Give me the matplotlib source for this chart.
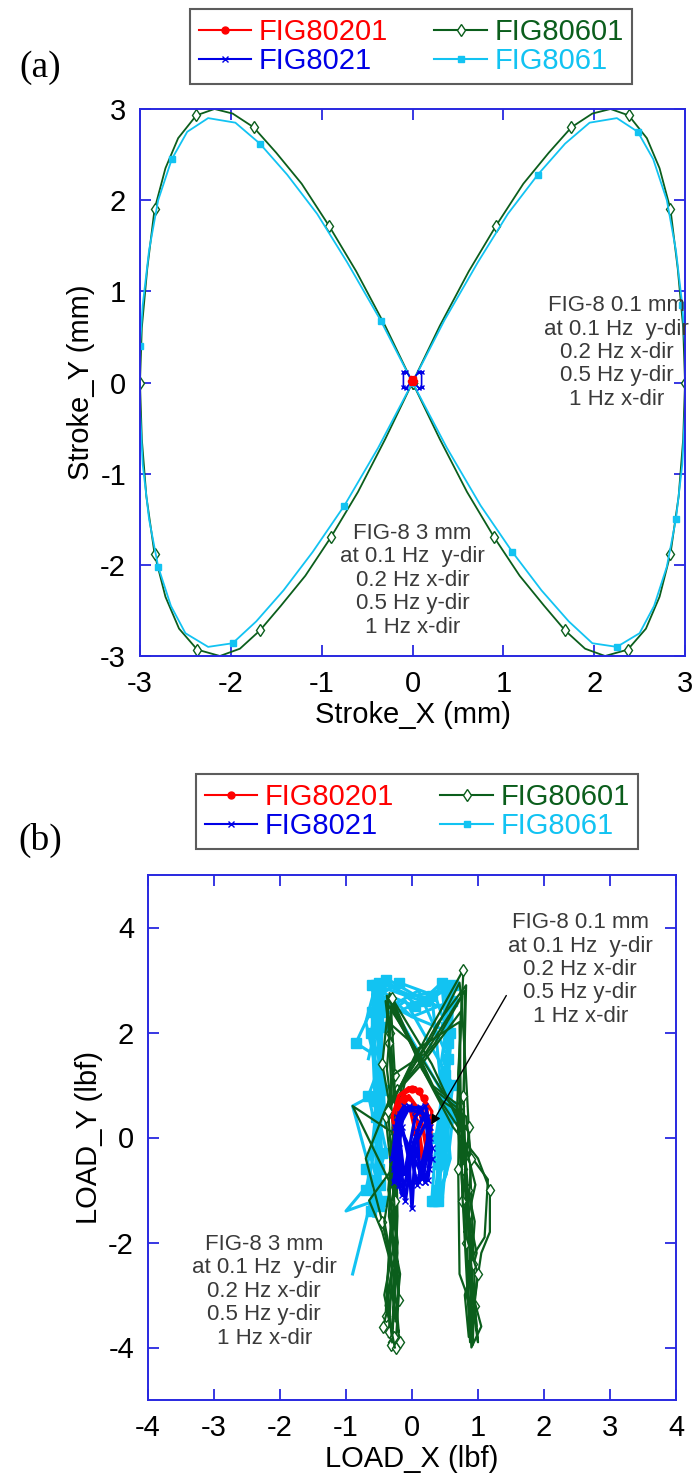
import numpy as np
import matplotlib
matplotlib.use("Agg")
import matplotlib.pyplot as plt
from matplotlib.lines import Line2D

plt.rcParams['font.family'] = ['Liberation Sans', 'DejaVu Sans']
plt.rcParams['axes.unicode_minus'] = False

RED = '#ff0000'
GREEN = '#0b5e1c'
BLUE = '#0000e6'
CYAN = '#12c3f2'
SPINE = '#2828e0'
NOTE = '#3a3a3a'

names = ['FIG80201', 'FIG8021', 'FIG80601', 'FIG8061']

# ---- panel (a): stroke paths (mm) ----
stroke_80601_x = [0.00, 0.30, 0.62, 0.92, 1.22, 1.50, 1.75, 1.98, 2.18, 2.38, 2.58, 2.72, 2.84, 2.92, 2.98, 3.00,
                  2.98, 2.93, 2.84, 2.72, 2.57, 2.37, 2.12, 1.90, 1.68, 1.45, 1.18, 0.90, 0.60, 0.30, 0.00,
                  -0.30, -0.62, -0.92, -1.22, -1.50, -1.75, -1.98, -2.18, -2.38, -2.58, -2.72, -2.84, -2.92, -2.98, -3.00,
                  -2.98, -2.93, -2.84, -2.72, -2.57, -2.37, -2.12, -1.90, -1.68, -1.45, -1.18, -0.90, -0.60, -0.30, 0.00]
stroke_80601_y = [0.00, 0.62, 1.22, 1.72, 2.18, 2.52, 2.80, 2.95, 3.00, 2.93, 2.68, 2.35, 1.90, 1.25, 0.60, 0.00,
                  -0.62, -1.25, -1.88, -2.35, -2.70, -2.93, -3.00, -2.92, -2.72, -2.45, -2.12, -1.70, -1.20, -0.62, 0.00,
                  0.62, 1.22, 1.72, 2.18, 2.52, 2.80, 2.95, 3.00, 2.93, 2.68, 2.35, 1.90, 1.25, 0.60, 0.00,
                  -0.62, -1.25, -1.88, -2.35, -2.70, -2.93, -3.00, -2.92, -2.72, -2.45, -2.12, -1.70, -1.20, -0.62, 0.00]

stroke_8061_x = [0.00, 0.35, 0.72, 1.05, 1.38, 1.68, 1.95, 2.25, 2.48, 2.65, 2.80, 2.90, 2.97, 3.00,
                 3.00, 2.97, 2.90, 2.80, 2.66, 2.50, 2.25, 1.98, 1.72, 1.42, 1.10, 0.75, 0.38, 0.00,
                 -0.35, -0.72, -1.05, -1.38, -1.68, -1.95, -2.25, -2.48, -2.65, -2.80, -2.90, -2.97, -3.00,
                 -3.00, -2.97, -2.90, -2.80, -2.66, -2.50, -2.25, -1.98, -1.72, -1.42, -1.10, -0.75, -0.38, 0.00]
stroke_8061_y = [0.00, 0.68, 1.32, 1.85, 2.28, 2.62, 2.85, 2.90, 2.75, 2.45, 2.00, 1.45, 0.85, 0.40,
                 -0.30, -0.90, -1.50, -2.02, -2.45, -2.75, -2.90, -2.86, -2.62, -2.28, -1.86, -1.35, -0.72, 0.00,
                 0.68, 1.32, 1.85, 2.28, 2.62, 2.85, 2.90, 2.75, 2.45, 2.00, 1.45, 0.85, 0.40,
                 -0.30, -0.90, -1.50, -2.02, -2.45, -2.75, -2.90, -2.86, -2.62, -2.28, -1.86, -1.35, -0.72, 0.00]

stroke_8021_x = [0.00, 0.07, 0.10, 0.10, 0.07, 0.00, -0.07, -0.10, -0.10, -0.07, 0.00]
stroke_8021_y = [0.02, 0.12, 0.11, -0.05, -0.06, 0.02, 0.12, 0.11, -0.05, -0.06, 0.02]
stroke_80201_x = [0.00, 0.02, 0.03, 0.02, 0.00, -0.02, -0.03, -0.02, 0.00]
stroke_80201_y = [0.02, 0.05, 0.02, -0.01, 0.02, 0.05, 0.02, -0.01, 0.02]

# ---- panel (b): load paths (lbf), one (x, y) pair per cycle ----
load_80601 = [
    ([-0.30, -0.26, -0.22, -0.24, -0.28, -0.33, -0.38, 0.05, 0.35, 0.75, 0.85, 0.88, 0.92, 0.95, 0.90, 0.86, 0.80,
      0.75, 0.72, 0.30, -0.22, -0.28, -0.25, -0.22, -0.28, -0.32],
     [-3.90, -2.80, -1.50, -0.20, 1.00, 2.00, 2.70, 1.70, 0.90, 0.50, -1.00, -2.50, -3.95, -2.80, -1.20, 0.20, 1.60,
      2.60, 2.95, 1.90, 0.90, 0.30, -1.00, -2.20, -3.20, -3.95]),
    ([-0.35, -0.30, -0.45, -0.65, -0.30, -0.25, -0.30, -0.40, 0.00, 0.30, 0.72, 0.80, 1.15, 1.10, 0.85, 0.95, 1.00,
      0.85, 0.80, 0.70, 0.78, 0.25, -0.25, -0.20, -0.30, -0.20, -0.35],
     [-3.70, -2.50, -1.80, -1.20, -0.60, 0.20, 1.50, 2.60, 1.80, 1.00, 0.60, -0.20, -0.80, -1.90, -2.40, -3.20, -3.90,
      -2.60, -0.80, 1.20, 3.20, 2.00, 0.80, -0.50, -1.90, -3.10, -3.80]),
    ([-0.25, -0.20, -0.28, -0.90, -0.30, -0.26, -0.32, 0.10, 0.38, 0.70, 0.78, 0.95, 0.88, 1.05, 0.90, 0.82, 0.68,
      0.76, 0.35, -0.15, -0.30, -0.35, -0.18, -0.25],
     [-4.00, -3.00, -1.00, 0.60, 0.10, 1.20, 2.50, 1.50, 0.80, 0.20, -0.60, -1.60, -2.80, -3.60, -4.00, -2.00, 0.50,
      2.70, 1.80, 1.00, 0.00, -1.50, -2.60, -3.50]),
    ([-0.40, -0.35, -0.30, -0.20, -0.25, -0.35, -0.30, 0.15, 0.45, 0.82, 0.90, 0.85, 0.98, 0.80, 0.86, 0.92, 0.78,
      0.80, 0.20, -0.28, -0.40, -0.30, -0.22, -0.40],
     [-3.40, -2.20, -1.20, 0.00, 0.80, 1.80, 2.60, 1.30, 0.70, 0.40, -0.40, -1.40, -2.20, -3.00, -3.80, -2.40, -0.20,
      2.80, 1.60, 1.20, 0.40, -0.80, -2.00, -3.20]),
    ([-0.18, -0.30, -0.22, -0.36, -0.28, -0.45, -0.34, 0.20, 0.62, 1.00, 1.18, 1.18, 1.05, 0.92, 0.72, 0.70, 0.74,
      0.15, -0.35, -0.70, -0.45, -0.28, -0.20],
     [-3.90, -3.00, -2.00, -1.00, 0.20, 1.40, 2.75, 1.20, 0.20, -0.40, -1.00, -1.80, -2.20, -3.30, -2.60, -0.60, 2.40,
      1.40, 0.70, -0.40, -1.60, -2.60, -3.70]),
    ([-0.28, -0.38, -0.30, -0.42, -0.26, -0.30, -0.36, 0.00, 0.40, 0.86, 0.76, 0.92, 0.82, 0.98, 0.84, 0.78, 0.82,
      0.40, -0.10, -0.32, -0.26, -0.38, -0.30],
     [-3.80, -3.30, -2.40, -1.60, -0.40, 0.60, 2.20, 1.80, 1.00, 0.10, -1.20, -2.00, -3.00, -3.60, -1.60, 0.80, 2.90,
      2.20, 1.10, -0.20, -1.20, -2.80, -3.90]),
    ([-0.44, -0.22, -0.34, -0.20, -0.38, -0.30, 0.30, 0.74, 0.96, 0.80, 1.00, 0.88, 0.76, 0.72, 0.10, -0.36, -0.24,
      -0.42, -0.26],
     [-3.60, -2.60, -1.40, -0.60, 1.30, 2.65, 1.40, 0.20, -0.90, -1.80, -2.60, -3.90, -1.00, 2.20, 1.70, 0.50, -1.80,
      -3.00, -4.00]),
]
load_8061 = [
    ([-0.50, -0.55, -0.50, -0.48, -0.52, -0.55, -0.50, 0.00, 0.55, 0.58, 0.50, 0.45, 0.40, 0.35, 0.45, 0.55, 0.60,
      0.00, -0.50, -0.60, -0.55, -0.50],
     [-1.30, -0.50, 0.50, 1.50, 2.30, 2.90, 2.95, 2.70, 2.80, 2.20, 1.20, 0.30, -0.50, -1.10, -0.40, 0.80, 2.60,
      2.30, 2.85, 1.90, 0.40, -1.20]),
    ([-0.55, -1.00, -0.60, -0.90, -0.45, -0.60, -0.85, -0.55, -0.40, 0.10, 0.62, 0.60, 0.50, 0.35, 0.30, 0.45, 0.62,
      -0.10, -0.55, -0.45, -0.50, -0.90],
     [-1.20, -1.40, -0.80, 0.60, 0.90, 1.60, 1.80, 2.60, 3.00, 2.50, 2.90, 2.00, 0.70, -0.30, -1.20, -0.60, 1.00,
      2.60, 2.20, 1.00, -0.60, -2.60]),
    ([-0.48, -0.50, -0.45, -0.55, 0.05, 0.50, 0.55, 0.42, 0.38, 0.50, 0.55, 0.10, -0.45, -0.52, -0.46, -0.58],
     [-0.90, 0.80, 2.10, 2.80, 2.50, 2.90, 1.80, 0.20, -1.00, -0.20, 1.50, 2.80, 2.40, 1.20, -0.30, -1.50]),
    ([-0.62, -0.40, -0.56, -0.46, -0.60, -0.35, 0.20, 0.60, 0.48, 0.58, 0.40, 0.48, 0.30, -0.20, -0.52, -0.40],
     [-1.40, -0.20, 0.70, 1.70, 2.40, 3.00, 2.60, 2.40, 1.00, -0.40, -1.20, 0.50, 2.70, 2.40, 2.70, 0.20]),
    ([-0.70, -0.52, -0.66, -0.48, -0.62, -0.50, -0.20, 0.35, 0.52, 0.44, 0.62, 0.52, 0.34, 0.42, 0.58, 0.00, -0.45,
      -0.66],
     [-1.00, 0.00, 0.80, 1.40, 2.00, 2.70, 2.95, 2.70, 2.10, 1.40, 0.40, -0.70, -1.20, -0.80, 2.00, 2.30, 2.60,
      1.50]),
    ([-0.45, -0.62, -0.50, -0.70, -0.55, 0.15, 0.45, 0.55, 0.36, 0.46, 0.58, -0.30, -0.60, -0.52, -0.70],
     [-1.20, -0.40, 1.10, 2.20, 2.90, 2.60, 2.95, 1.60, 0.00, -1.20, 0.60, 2.50, 2.90, 0.20, -0.60]),
]
load_80201 = [
    ([-0.20, -0.25, -0.22, -0.10, 0.00, 0.12, 0.22, 0.25, 0.22, 0.18, 0.10, 0.00, -0.12, -0.18, -0.28, -0.22],
     [-0.50, 0.10, 0.60, 0.85, 0.92, 0.85, 0.60, 0.10, -0.25, -0.50, 0.20, 0.70, 0.75, 0.30, -0.20, -0.55]),
    ([-0.15, -0.30, -0.20, -0.05, 0.10, 0.30, 0.28, 0.20, 0.05, -0.02, 0.08, 0.15],
     [-0.60, 0.40, 0.80, 0.95, 0.88, 0.50, -0.10, -0.45, 0.10, 0.50, 0.30, -0.40]),
    ([-0.25, -0.18, -0.10, 0.05, 0.18, 0.26, 0.20, 0.24, 0.12, -0.05, -0.20, -0.24],
     [-0.20, 0.70, 0.88, 0.95, 0.75, 0.30, -0.20, -0.40, 0.50, 0.80, 0.40, -0.45]),
]
load_8021 = [
    ([-0.22, -0.25, -0.18, -0.05, 0.10, 0.22, 0.28, 0.25, 0.20, 0.05, 0.00, -0.05, -0.15, -0.25, -0.20],
     [-0.80, 0.00, 0.45, 0.60, 0.55, 0.40, 0.00, -0.60, -0.85, -0.20, -1.35, -0.40, 0.20, -0.30, -0.90]),
    ([-0.28, -0.20, -0.08, 0.05, 0.18, 0.30, 0.24, 0.12, 0.08, 0.15, 0.02, -0.10, -0.18, -0.26],
     [-0.60, 0.30, 0.55, 0.50, 0.45, -0.20, -0.80, -0.75, 0.10, 0.35, -0.10, -1.20, -0.50, 0.20]),
    ([-0.30, -0.22, -0.12, -0.20, -0.28, -0.10, 0.05, 0.20, 0.28, 0.18, 0.10, 0.25, 0.22, 0.02, -0.15, -0.24],
     [-0.40, 0.40, 0.60, -0.20, -0.85, -0.60, 0.40, 0.60, 0.20, -0.70, -0.85, -0.30, 0.30, -0.20, -1.10, -0.70]),
    ([-0.18, -0.24, -0.05, 0.12, 0.26, 0.15, 0.08, -0.02, -0.12, -0.22, 0.20, 0.30],
     [-0.90, 0.10, 0.55, 0.58, 0.10, -0.50, -0.90, -0.30, -0.70, 0.30, -0.85, -0.40]),
]

note_small = 'FIG-8 0.1 mm\nat 0.1 Hz  y-dir\n0.2 Hz x-dir\n0.5 Hz y-dir\n1 Hz x-dir'
note_big = 'FIG-8 3 mm\nat 0.1 Hz  y-dir\n0.2 Hz x-dir\n0.5 Hz y-dir\n1 Hz x-dir'

W, H = 696, 1477
fig = plt.figure(figsize=(W / 100, H / 100), dpi=100)


def style_axes(ax):
    for s in ax.spines.values():
        s.set_color(SPINE)
        s.set_linewidth(1.4)
    ax.tick_params(direction='in', length=8, width=1.3, color=SPINE, top=True, right=True,
                   labelsize=21, pad=10)


def add_legend(top_px, left_px):
    handles = [
        Line2D([], [], color=RED, marker='o', ms=5),
        Line2D([], [], color=BLUE, marker='x', ms=5, mew=1),
        Line2D([], [], color=GREEN, marker='d', ms=6, mfc='white'),
        Line2D([], [], color=CYAN, marker='s', ms=5),
    ]
    leg = fig.legend(handles, names, ncol=2, loc='upper left',
                     bbox_to_anchor=(left_px / W, 1 - top_px / H), fontsize=21,
                     frameon=True, fancybox=False, edgecolor='#333333', handlelength=1.8,
                     columnspacing=1.6, labelspacing=0.05, borderpad=0.3, handletextpad=0.25,
                     borderaxespad=0)
    leg.get_frame().set_linewidth(1.5)
    for t, c in zip(leg.get_texts(), [RED, BLUE, GREEN, CYAN]):
        t.set_color(c)


# panel (a)
ax1 = fig.add_axes([140 / W, 1 - 656 / H, 545 / W, 547 / H])
ax1.plot(stroke_80601_x, stroke_80601_y, color=GREEN, lw=1.3, marker='d', ms=6, mfc='white',
         markevery=3)
ax1.plot(stroke_8061_x, stroke_8061_y, color=CYAN, lw=1.3, marker='s', ms=4, markevery=4)
ax1.plot(stroke_8021_x, stroke_8021_y, color=BLUE, lw=1.2, marker='x', ms=3)
ax1.plot(stroke_80201_x, stroke_80201_y, color=RED, lw=1.2, marker='o', ms=3)
ax1.set_xlim(-3, 3)
ax1.set_ylim(-3, 3)
ax1.set_xticks(range(-3, 4))
ax1.set_yticks(range(-3, 4))
style_axes(ax1)
ax1.set_xlabel('Stroke_X (mm)', fontsize=21, labelpad=2)
ax1.set_ylabel('Stroke_Y (mm)', fontsize=21, labelpad=4)
ax1.text(2.25, 0.33, note_small, ha='center', va='center', fontsize=16, color=NOTE, linespacing=1.15)
ax1.text(0.0, -2.17, note_big, ha='center', va='center', fontsize=16, color=NOTE, linespacing=1.15)
add_legend(9, 190)
fig.text(40 / W, 1 - 68 / H, '(a)', family='Liberation Serif', fontsize=27, ha='center', va='center')

# panel (b): cyan underneath, green cycles over it, then the small 0.1 mm runs
ax2 = fig.add_axes([148 / W, 1 - 1400 / H, 528 / W, 525 / H])
for xs, ys in load_8061:
    ax2.plot(xs, ys, color=CYAN, lw=2.2, marker='s', ms=7, markevery=2)
for xs, ys in load_80601:
    ax2.plot(xs, ys, color=GREEN, lw=1.6, marker='d', ms=6, mfc='white', markevery=5)
for xs, ys in load_80201:
    ax2.plot(xs, ys, color=RED, lw=2.4, marker='o', ms=5, markevery=4)
for xs, ys in load_8021:
    ax2.plot(xs, ys, color=BLUE, lw=2.4, marker='x', ms=4)
ax2.set_xlim(-4, 4)
ax2.set_ylim(-5, 5)
ax2.set_xticks(range(-4, 5))
ax2.set_yticks([-4, -2, 0, 2, 4])
style_axes(ax2)
ax2.set_xlabel('LOAD_X (lbf)', fontsize=21, labelpad=2)
ax2.set_ylabel('LOAD_Y (lbf)', fontsize=21, labelpad=4)
ax2.text(2.55, 3.2, note_small, ha='center', va='center', fontsize=16, color=NOTE, linespacing=1.15)
ax2.text(-2.24, -2.93, note_big, ha='center', va='center', fontsize=16, color=NOTE, linespacing=1.15)
ax2.annotate('', xy=(0.27, 0.2), xytext=(1.45, 2.75),
             arrowprops=dict(arrowstyle='-|>', color='black', lw=1.0, mutation_scale=14))
add_legend(774, 196)
fig.text(40 / W, 1 - 840 / H, '(b)', family='Liberation Serif', fontsize=27, ha='center', va='center')

fig.savefig('out.png', dpi=100)
